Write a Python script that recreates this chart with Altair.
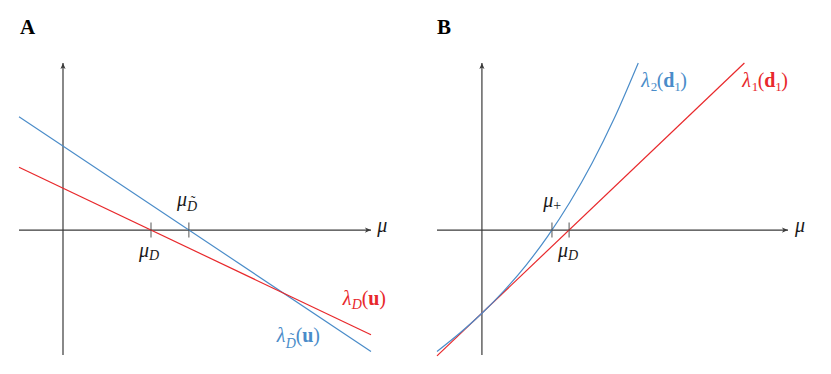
import altair as alt
import pandas as pd

# ---------------- data ----------------
# Panel A: two straight lines lambda_D(u) (red) and lambda_D~(u) (blue)
a_mu = [-1.0, 7.0]
a_lam_D = [1.43, -2.38]
a_lam_Dt = [2.58, -2.76]
a_roots = [2.0, 2.86]            # mu_D, mu_D~

# Panel B: lambda_1(d1) (red straight) and lambda_2(d1) (blue curve)
b_mu_red = [-1.02, 5.96]
b_lam1 = [-2.86, 3.80]
b_mu_blue = [-1.02, -0.5, 0.0, 0.5, 1.0, 1.5, 2.0, 2.5, 3.0, 3.55]
b_lam2 = [-2.76, -2.34, -1.89, -1.38, -0.80, -0.13, 0.64, 1.52, 2.53, 3.80]
b_roots = [1.59, 1.98]           # mu_+, mu_D

A_XDOM = [-1.0, 7.0]
B_XDOM = [-1.02, 6.95]
YDOM = [-2.84, 3.80]

RED = "#e8282b"
BLUE = "#4a8cc9"
AXC = "#3a3a3a"
TXT = "#1a1a1a"
FONT = "Liberation Serif"
S = 20   # main text size
s = 14   # subscript size (letters)
sd = 13  # subscript size (digits)

ARROW_R = "M0,0 L-1,-0.42 L-0.72,0 L-1,0.42 Z"
ARROW_U = "M0,0 L-0.42,1 L0,0.72 L0.42,1 Z"


def X(dom):
    return alt.X("x:Q", scale=alt.Scale(domain=dom, nice=False, zero=False), axis=None)


def Yc():
    return alt.Y("y:Q", scale=alt.Scale(domain=YDOM, nice=False, zero=False), axis=None)


def line_layer(dom, xs, ys, color, interp="linear"):
    df = pd.DataFrame({"x": xs, "y": ys})
    return alt.Chart(df).mark_line(color=color, strokeWidth=1.2, interpolate=interp, clip=False).encode(
        x=X(dom), y=Yc())


def axes_layers(dom):
    hx = pd.DataFrame({"x": [dom[0]], "x2": [dom[1]], "y": [0.0]})
    vy = pd.DataFrame({"x": [0.0], "y": [YDOM[0]], "y2": [YDOM[1]]})
    h = alt.Chart(hx).mark_rule(color=AXC, strokeWidth=1.2).encode(x=X(dom), x2="x2:Q", y=Yc())
    v = alt.Chart(vy).mark_rule(color=AXC, strokeWidth=1.2).encode(x=X(dom), y=Yc(), y2="y2:Q")
    ah = alt.Chart(pd.DataFrame({"x": [dom[1]], "y": [0.0]})).mark_point(
        shape=ARROW_R, filled=True, size=150, color=AXC, opacity=1, strokeWidth=0).encode(x=X(dom), y=Yc())
    av = alt.Chart(pd.DataFrame({"x": [0.0], "y": [YDOM[1]]})).mark_point(
        shape=ARROW_U, filled=True, size=150, color=AXC, opacity=1, strokeWidth=0).encode(x=X(dom), y=Yc())
    return [h, v, ah, av]


def ticks_layer(dom, roots):
    df = pd.DataFrame({"x": roots, "y": [0.0] * len(roots)})
    return alt.Chart(df).mark_tick(orient="vertical", size=15, thickness=1.3, color="#444444").encode(
        x=X(dom), y=Yc())


def label(dom, x, y, pieces, color):
    df = pd.DataFrame({"x": [x], "y": [y], "t": [""]})
    out = []
    for (txt, dx, dy, size, style, weight, align) in pieces:
        d = df.copy()
        d["t"] = txt
        out.append(alt.Chart(d).mark_text(
            font=FONT, fontSize=size, fontStyle=style, fontWeight=weight, align=align,
            baseline="alphabetic", dx=dx, dy=dy, color=color).encode(x=X(dom), y=Yc(), text="t:N"))
    return out


I, N, B_ = "italic", "normal", "bold"

# ---------------- panel A ----------------
A_layers = []
A_layers += axes_layers(A_XDOM)
A_layers.append(line_layer(A_XDOM, a_mu, a_lam_Dt, BLUE))
A_layers.append(line_layer(A_XDOM, a_mu, a_lam_D, RED))
A_layers.append(ticks_layer(A_XDOM, a_roots))
A_layers += label(A_XDOM, -0.98, 4.45, [("A", 0, 0, 21, N, B_, "left")], "#000000")
A_layers += label(A_XDOM, 7.14, -0.05, [("μ", 0, 0, S, I, N, "left")], TXT)
A_layers += label(A_XDOM, 1.73, -0.61, [("μ", 0, 0, S, I, N, "left"),
                                         ("D", 10, 3, s, I, N, "left")], TXT)
A_layers += label(A_XDOM, 2.59, 0.545, [("μ", 0, 0, S, I, N, "left"),
                                         ("D", 10, 5, s, I, N, "left"),
                                         ("˜", 16, 0, s, N, N, "center")], TXT)
A_layers += label(A_XDOM, 6.36, -1.70, [("λ", 0, 0, S, I, N, "left"),
                                         ("D", 9, 4, s, I, N, "left"),
                                         ("(", 19, 0, S, N, N, "left"),
                                         ("u", 25.5, 0, S, N, B_, "left"),
                                         (")", 36.5, 0, S, N, N, "left")], RED)
A_layers += label(A_XDOM, 4.86, -2.55, [("λ", 0, 0, S, I, N, "left"),
                                         ("D", 9, 6, s, I, N, "left"),
                                         ("˜", 15, 1, s, N, N, "center"),
                                         ("(", 19, 0, S, N, N, "left"),
                                         ("u", 25.5, 0, S, N, B_, "left"),
                                         (")", 36.5, 0, S, N, N, "left")], BLUE)
panelA = alt.layer(*A_layers).properties(width=352, height=292)

# ---------------- panel B ----------------
B_layers = []
B_layers += axes_layers(B_XDOM)
B_layers.append(line_layer(B_XDOM, b_mu_red, b_lam1, RED))
B_layers.append(line_layer(B_XDOM, b_mu_blue, b_lam2, BLUE, "monotone"))
B_layers.append(ticks_layer(B_XDOM, b_roots))
B_layers += label(B_XDOM, -1.02, 4.45, [("B", 0, 0, 21, N, B_, "left")], "#000000")
B_layers += label(B_XDOM, 7.11, -0.05, [("μ", 0, 0, S, I, N, "left")], TXT)
B_layers += label(B_XDOM, 1.39, 0.52, [("μ", 0, 0, S, I, N, "left"),
                                        ("+", 10, 3, s, N, N, "left")], TXT)
B_layers += label(B_XDOM, 1.73, -0.61, [("μ", 0, 0, S, I, N, "left"),
                                         ("D", 10, 3, s, I, N, "left")], TXT)
B_layers += label(B_XDOM, 3.62, 3.25, [("λ", 0, 0, S, I, N, "left"),
                                        ("2", 9.5, 4, sd, N, N, "left"),
                                        ("(", 15.5, 0, S, N, N, "left"),
                                        ("d", 22, 0, S, N, B_, "left"),
                                        ("1", 33, 4, sd, N, N, "left"),
                                        (")", 39, 0, S, N, N, "left")], BLUE)
B_layers += label(B_XDOM, 5.91, 3.25, [("λ", 0, 0, S, I, N, "left"),
                                        ("1", 9.5, 4, sd, N, N, "left"),
                                        ("(", 15.5, 0, S, N, N, "left"),
                                        ("d", 22, 0, S, N, B_, "left"),
                                        ("1", 33, 4, sd, N, N, "left"),
                                        (")", 39, 0, S, N, N, "left")], RED)
panelB = alt.layer(*B_layers).properties(width=351, height=292)

chart = alt.hconcat(panelA, panelB, spacing=66, bounds="flush").properties(
    padding={"left": 8, "top": 9, "right": 5, "bottom": 5}
).configure_view(strokeWidth=0)

chart.save("out.html", embed_options={"renderer": "svg", "actions": False})
